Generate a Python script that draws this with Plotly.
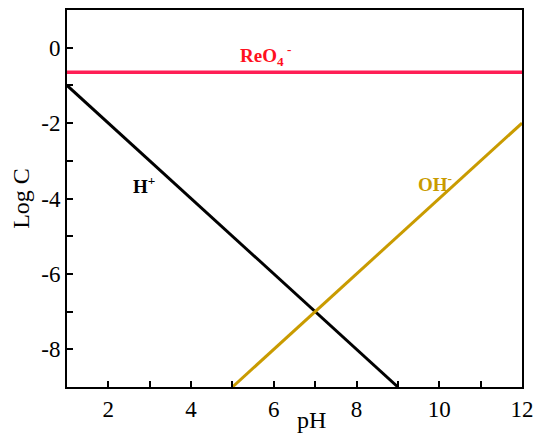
import plotly.graph_objects as go

# pH ranges and log concentrations
ph_h = [1, 9]
logc_h = [-1, -9]
ph_oh = [5, 12]
logc_oh = [-9, -2]
ph_reo4 = [1, 12]
logc_reo4 = [-0.65, -0.65]

x_ticks = [2, 4, 6, 8, 10, 12]
y_ticks = [0, -2, -4, -6, -8]
y_ticktext = ["0", "-2", "-4", "-6", "-8"]

FONT = "Liberation Serif, Times New Roman, serif"

fig = go.Figure()
fig.add_trace(go.Scatter(x=ph_reo4, y=logc_reo4, mode='lines',
                         line=dict(color='#FF1F55', width=3.5)))
fig.add_trace(go.Scatter(x=ph_h, y=logc_h, mode='lines',
                         line=dict(color='black', width=3)))
fig.add_trace(go.Scatter(x=ph_oh, y=logc_oh, mode='lines',
                         line=dict(color='#C99B00', width=3)))

# species labels
fig.add_annotation(x=5.8, y=-0.2, text="<b>ReO<sub>4</sub><sup> -</sup></b>",
                   showarrow=False, font=dict(color='#FF1020', size=19, family=FONT))
fig.add_annotation(x=2.85, y=-3.65, text="<b>H<sup>+</sup></b>",
                   showarrow=False, font=dict(color='black', size=19, family=FONT))
fig.add_annotation(x=9.9, y=-3.6, text="<b>OH<sup>-</sup></b>",
                   showarrow=False, font=dict(color='#C99B00', size=19, family=FONT))
# axis title placed like the original (off-centre, close to the tick labels)
fig.add_annotation(x=6.9, y=-9, yshift=-33, text="pH", showarrow=False,
                   font=dict(color='black', size=24, family=FONT))

fig.update_xaxes(range=[1, 12], tickvals=x_ticks, ticks='inside', ticklen=6,
                 tickwidth=1.5, tickcolor='black', showline=True, linecolor='black',
                 linewidth=2, mirror=True, showgrid=False, zeroline=False,
                 minor=dict(dtick=1, ticks='inside', ticklen=6, tickcolor='black',
                            tickwidth=1.5, showgrid=False),
                 tickfont=dict(size=23, family=FONT, color='black'))
fig.update_yaxes(range=[-9, 1], tickvals=y_ticks, ticktext=y_ticktext,
                 ticks='inside', ticklen=6,
                 tickwidth=1.5, tickcolor='black', showline=True, linecolor='black',
                 linewidth=2, mirror=True, showgrid=False, zeroline=False,
                 minor=dict(dtick=1, ticks='inside', ticklen=6, tickcolor='black',
                            tickwidth=1.5, showgrid=False),
                 tickfont=dict(size=23, family=FONT, color='black'),
                 title=dict(text="Log C", font=dict(size=24, family=FONT, color='black'),
                            standoff=10))

fig.update_layout(width=550, height=442, showlegend=False,
                  plot_bgcolor='white', paper_bgcolor='white',
                  margin=dict(l=59, r=36, t=0, b=63))

fig.write_html("out.html")
